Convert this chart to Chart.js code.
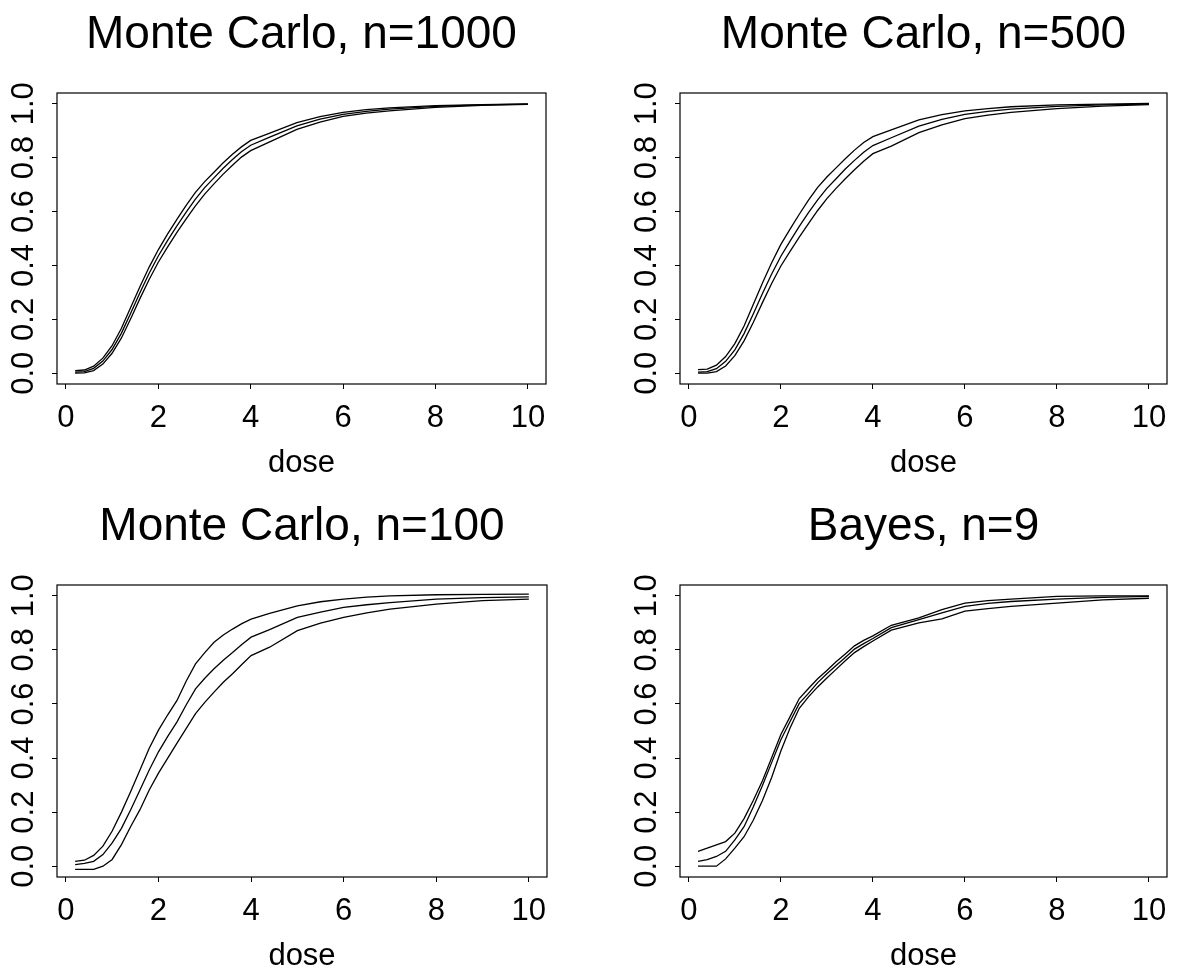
<!DOCTYPE html>
<html>
<head>
<meta charset="utf-8">
<script src="https://cdn.jsdelivr.net/npm/chart.js@4"></script>
<style>
html, body { margin:0; padding:0; background:#fff; }
#wrap { position:relative; width:1181px; height:970px; overflow:hidden; }
#wrap canvas { position:absolute; }
</style>
</head>
<body>
<div id="wrap">
  <canvas id="c1" width="590" height="485" style="left:0;top:0"></canvas>
  <canvas id="c2" width="591" height="485" style="left:590px;top:0"></canvas>
  <canvas id="c3" width="590" height="485" style="left:0;top:485px"></canvas>
  <canvas id="c4" width="591" height="485" style="left:590px;top:485px"></canvas>
</div>
<script>
/* dose-response curves, 4 panels (lower / middle / upper) */
const DOSE = [0.2,0.4,0.6,0.8,1.0,1.2,1.4,1.6,1.8,2.0,2.2,2.4,2.6,2.8,3.0,3.2,3.4,3.6,3.8,4.0,4.4,5.0,5.5,6.0,6.5,7.0,8.0,9.0,10.0];
const X_TICKS = [0,2,4,6,8,10];
const Y_TICKS = [0,0.2,0.4,0.6,0.8,1.0];
const TITLES = ['Monte Carlo, n=1000','Monte Carlo, n=500','Monte Carlo, n=100','Bayes, n=9'];
const X_LABEL = 'dose';

const MC1000_HI  = [0.010,0.012,0.026,0.056,0.102,0.166,0.243,0.320,0.393,0.458,0.516,0.570,0.622,0.670,0.710,0.745,0.780,0.812,0.840,0.864,0.890,0.930,0.952,0.968,0.978,0.985,0.993,0.997,1.000];
const MC1000_MID = [0.004,0.006,0.018,0.045,0.088,0.148,0.222,0.298,0.370,0.435,0.492,0.546,0.597,0.645,0.688,0.724,0.760,0.792,0.822,0.846,0.875,0.918,0.943,0.961,0.972,0.980,0.990,0.996,0.999];
const MC1000_LO  = [0.000,0.001,0.010,0.034,0.074,0.130,0.201,0.276,0.347,0.412,0.468,0.522,0.572,0.620,0.664,0.702,0.738,0.771,0.802,0.826,0.858,0.905,0.932,0.953,0.965,0.974,0.987,0.994,0.998];

const MC500_HI  = [0.013,0.015,0.030,0.062,0.110,0.175,0.255,0.335,0.410,0.478,0.535,0.590,0.642,0.690,0.728,0.762,0.796,0.828,0.856,0.878,0.903,0.940,0.960,0.974,0.982,0.989,0.996,0.999,1.001];
const MC500_MID = [0.004,0.006,0.017,0.044,0.087,0.147,0.220,0.296,0.368,0.434,0.490,0.545,0.596,0.643,0.686,0.722,0.758,0.790,0.820,0.845,0.874,0.917,0.942,0.961,0.972,0.980,0.990,0.996,0.999];
const MC500_LO  = [0.000,0.000,0.006,0.027,0.065,0.120,0.188,0.262,0.333,0.398,0.452,0.505,0.555,0.604,0.648,0.686,0.722,0.755,0.787,0.815,0.843,0.893,0.922,0.945,0.958,0.968,0.982,0.991,0.997];

const MC100_HI  = [0.018,0.022,0.040,0.074,0.130,0.200,0.276,0.356,0.436,0.503,0.560,0.613,0.685,0.748,0.790,0.828,0.855,0.877,0.897,0.914,0.935,0.963,0.978,0.988,0.995,1.000,1.004,1.005,1.006];
const MC100_MID = [0.006,0.010,0.018,0.043,0.086,0.140,0.209,0.282,0.356,0.423,0.480,0.534,0.597,0.656,0.695,0.730,0.762,0.790,0.820,0.847,0.875,0.920,0.940,0.957,0.967,0.975,0.988,0.993,0.996];
const MC100_LO  = [-0.012,-0.012,-0.012,0.000,0.025,0.080,0.147,0.209,0.282,0.344,0.400,0.455,0.510,0.564,0.606,0.644,0.680,0.712,0.746,0.779,0.810,0.871,0.899,0.920,0.937,0.951,0.969,0.982,0.988];

const BAYES_HI  = [0.055,0.067,0.079,0.091,0.122,0.176,0.243,0.316,0.401,0.487,0.553,0.620,0.657,0.693,0.724,0.756,0.785,0.815,0.835,0.852,0.891,0.918,0.949,0.973,0.982,0.988,0.998,1.000,1.000];
const BAYES_MID = [0.018,0.024,0.036,0.055,0.097,0.146,0.219,0.298,0.383,0.468,0.535,0.602,0.639,0.679,0.712,0.742,0.772,0.803,0.823,0.842,0.882,0.912,0.937,0.961,0.972,0.979,0.988,0.994,0.998];
const BAYES_LO  = [0.000,0.000,0.000,0.027,0.067,0.109,0.170,0.243,0.328,0.426,0.511,0.584,0.626,0.663,0.696,0.728,0.760,0.790,0.812,0.833,0.873,0.900,0.915,0.943,0.953,0.961,0.973,0.985,0.991];

const FONT = '"Liberation Sans", Arial, Helvetica, sans-serif';
const TITLE_SIZE = 46;
const AXIS_SIZE = 31;

// plot box (left, top, right, bottom) relative to each canvas; title / axis-title centre y
const PANELS = [
  {id:'c1', title:TITLES[0], series:[MC1000_LO, MC1000_MID, MC1000_HI], box:[57,93,546,384],  titleY:35, doseY:463},
  {id:'c2', title:TITLES[1], series:[MC500_LO, MC500_MID, MC500_HI],   box:[90,93,577,384],  titleY:35, doseY:463},
  {id:'c3', title:TITLES[2], series:[MC100_LO, MC100_MID, MC100_HI],   box:[57,100,547,392], titleY:42, doseY:471},
  {id:'c4', title:TITLES[3], series:[BAYES_LO, BAYES_MID, BAYES_HI],   box:[90,100,577,392], titleY:42, doseY:471}
];

const framePlugin = {
  id:'frame',
  afterDatasetsDraw(chart){
    const {ctx, chartArea:a} = chart;
    ctx.save();
    ctx.strokeStyle = '#000';
    ctx.lineWidth = 1.2;
    ctx.strokeRect(a.left, a.top, a.right - a.left, a.bottom - a.top);
    ctx.restore();
  }
};

function makePanel(p){
  const canvas = document.getElementById(p.id);
  const W = canvas.width, H = canvas.height;
  const [bl, bt, br, bb] = p.box;
  const titleLH = TITLE_SIZE * 1.2;
  const tPadTop = p.titleY - titleLH/2;
  const tPadBot = bt - tPadTop - titleLH;
  const axLH = AXIS_SIZE * 1.2;
  const doseBot = H - p.doseY - axLH/2;

  const datasets = p.series.map(vals => ({
    data: DOSE.map((d,i) => ({x:d, y:vals[i]})),
    borderColor:'#000',
    borderWidth:1.3,
    pointRadius:0,
    tension:0,
    fill:false
  }));

  return new Chart(canvas, {
    type:'line',
    data:{ datasets },
    options:{
      responsive:false,
      animation:false,
      layout:{ padding:{top:0, left:0, bottom:0, right:W - br} },
      plugins:{
        legend:{display:false},
        tooltip:{enabled:false},
        title:{
          display:true, text:p.title, fullSize:false, color:'#000',
          font:{family:FONT, size:TITLE_SIZE, weight:'normal'},
          padding:{top:tPadTop, bottom:tPadBot}
        }
      },
      scales:{
        x:{
          type:'linear', min:-0.192, max:10.392,
          afterFit: s => { s.height = H - bb; },
          afterBuildTicks: s => { s.ticks = X_TICKS.map(v => ({value:v})); },
          grid:{drawOnChartArea:false, drawTicks:true, tickLength:5, color:'#000', lineWidth:1},
          border:{display:false},
          ticks:{color:'#000', font:{family:FONT, size:AXIS_SIZE}, padding:11, maxRotation:0, callback:v => String(v)},
          title:{display:true, text:X_LABEL, color:'#000', font:{family:FONT, size:AXIS_SIZE}, padding:{top:0, bottom:doseBot}}
        },
        y:{
          type:'linear', min:-0.04, max:1.04,
          afterFit: s => { s.width = bl; },
          afterBuildTicks: s => { s.ticks = Y_TICKS.map(v => ({value:v})); },
          grid:{drawOnChartArea:false, drawTicks:true, tickLength:5, color:'#000', lineWidth:1},
          border:{display:false},
          ticks:{color:'#000', font:{family:FONT, size:AXIS_SIZE}, padding:5.5, minRotation:90, maxRotation:90,
                 crossAlign:'center', callback:v => Number(v).toFixed(1)}
        }
      }
    },
    plugins:[framePlugin]
  });
}

PANELS.forEach(makePanel);
</script>
</body>
</html>
